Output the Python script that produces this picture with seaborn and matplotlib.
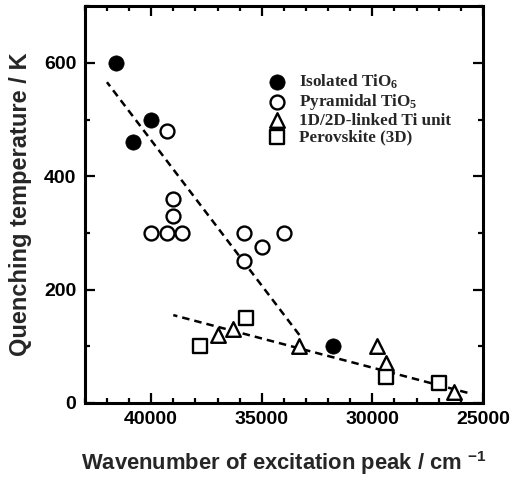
import pandas as pd
import seaborn as sns
import matplotlib.pyplot as plt
from matplotlib.ticker import MultipleLocator


# data
iso_x = [41600, 40000, 40800, 31800]
iso_y = [600, 500, 460, 100]

pyr_x = [39300, 39000, 39000, 40000, 39300, 38600, 35800, 35800, 35000, 34000]
pyr_y = [480, 360, 330, 300, 300, 300, 300, 250, 275, 300]

tri_x = [37000, 36300, 33300, 29800, 29400, 26300]
tri_y = [120, 130, 100, 100, 70, 20]

sq_x = [37800, 35700, 29400, 27000]
sq_y = [100, 150, 45, 35]

# dashed guide lines (end points)
fit1_x = [42000, 33300]
fit1_y = [566, 120]
fit2_x = [39000, 25700]
fit2_y = [155, 18]

labels = ['Isolated TiO$_6$', 'Pyramidal TiO$_5$', '1D/2D-linked Ti unit', 'Perovskite (3D)']


#=====================================================================================================
sns.set_style("ticks")
plt.rcParams['font.family'] = ['Liberation Sans', 'DejaVu Sans']
plt.rcParams['font.weight'] = 'bold'
plt.rcParams['mathtext.default'] = 'regular'

fig, ax = plt.subplots(figsize=(5.11, 4.78), dpi=100)
fig.subplots_adjust(left=0.166, right=0.945, bottom=0.157, top=0.987)

# guide lines
for fx, fy in [(fit1_x, fit1_y), (fit2_x, fit2_y)]:
    sns.lineplot(x=fx, y=fy, ax=ax, color='black', lw=1.8, linestyle=(0, (3, 2)), zorder=2)

groups = [
    (iso_x, iso_y, 'o', 'black', 121, 0.5),
    (pyr_x, pyr_y, 'o', 'white', 100, 1.7),
    (tri_x, tri_y, '^', 'white', 110, 1.7),
    (sq_x, sq_y, 's', 'white', 95, 1.7),
]
for (gx, gy, m, fc, s, lw), lab in zip(groups, labels):
    sns.scatterplot(x=gx, y=gy, ax=ax, marker=m, s=s, color=fc, edgecolor='black',
                    linewidth=lw, label=lab, zorder=3)

ax.set_xlim(43000, 25000)
ax.set_ylim(0, 700)
ax.xaxis.set_major_locator(MultipleLocator(5000))
ax.xaxis.set_minor_locator(MultipleLocator(1000))
ax.yaxis.set_major_locator(MultipleLocator(200))
ax.yaxis.set_minor_locator(MultipleLocator(100))

ax.tick_params(which='both', direction='in', top=True, right=True, width=1.6, colors='black')
ax.tick_params(which='major', length=7, labelsize=14, pad=6)
ax.tick_params(which='minor', length=3.5)
for sp in ax.spines.values():
    sp.set_linewidth(2.2)
    sp.set_color('black')

ax.set_xlabel('Wavenumber of excitation peak / cm $^{-1}$', fontsize=15.8, fontweight='bold', labelpad=15)
ax.set_ylabel('Quenching temperature / K', fontsize=17, fontweight='bold', labelpad=9)

ax.legend(loc='upper left', bbox_to_anchor=(0.462, 0.832), frameon=False, borderpad=0,
          handlelength=1.0, handletextpad=0.75, labelspacing=0.05, borderaxespad=0,
          prop={'family': 'Liberation Serif', 'weight': 'bold', 'size': 12.3})

fig.savefig('out.png', dpi=100)
